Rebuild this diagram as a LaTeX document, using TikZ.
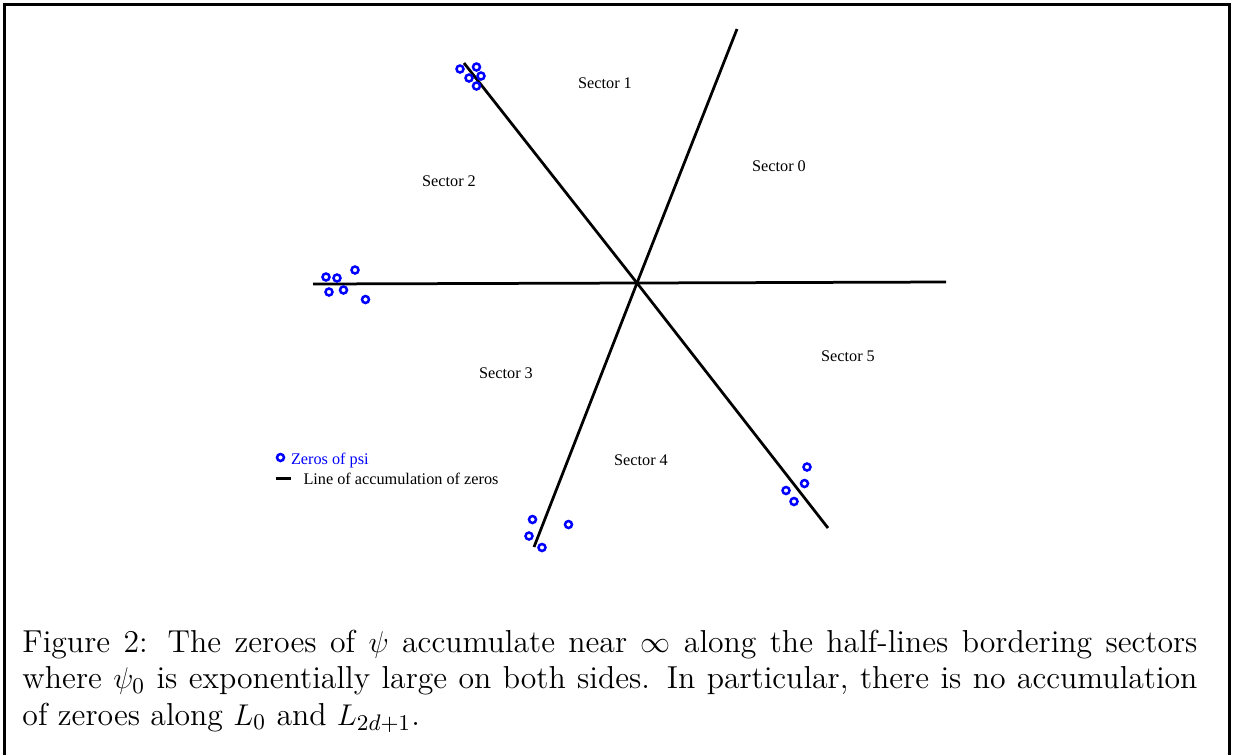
\documentclass[tikz,border=0pt]{standalone}
\usepackage{fontspec}
\newfontfamily\figfont{Liberation Serif}
\usetikzlibrary{positioning}

\begin{document}
\begin{tikzpicture}[x=0.4pt, y=-0.4pt]
  % colors
  \definecolor{zeroblue}{RGB}{0,0,255}

  % parameters
  \def\r{1.4pt}    % radius of the zeros

  \tikzset{
    halfline/.style={line width=1.1pt, black},
    zero/.style={draw=zeroblue, line width=1pt},
    sectorlabel/.style={font=\figfont\fontsize{6.5}{8}\selectfont, inner sep=0pt},
  }

  \useasboundingbox (0,0) rectangle (1235,755);

  % frame
  \draw[line width=1.2pt] (4.5,755) -- (4.5,4.5) -- (1229.5,4.5) -- (1229.5,755);

  % half-lines through the origin
  \coordinate (O)  at (637,283);
  \coordinate (W)  at (313,284);
  \coordinate (E)  at (946,282);
  \coordinate (NE) at (737,29);
  \coordinate (SW) at (534,547);
  \coordinate (NW) at (464,63);
  \coordinate (SE) at (828,528);
  \draw[halfline] (W) -- (O) -- (E);
  \draw[halfline] (NE) -- (O) -- (SW);
  \draw[halfline] (NW) -- (O) -- (SE);

  % zeros (upper left, left, bottom, lower right)
  \foreach \p in {(460,69),(476.5,67),(469,78),(481,76),(476.5,86)}
    \draw[zero] \p circle (\r);
  \foreach \p in {(326,277),(337,278),(355,270),(329,292),(343.5,290),(365.5,299.5)}
    \draw[zero] \p circle (\r);
  \foreach \p in {(532.5,519.5),(529,536),(542,547.5),(568.5,524.5)}
    \draw[zero] \p circle (\r);
  \foreach \p in {(807,467),(804.5,483.5),(786,490.5),(794,501.5)}
    \draw[zero] \p circle (\r);

  % sectors
  \node[sectorlabel] (s0) at (779,166) {Sector 0};
  \node[sectorlabel] (s1) at (605,83)  {Sector 1};
  \node[sectorlabel] (s2) at (449,181) {Sector 2};
  \node[sectorlabel] (s3) at (506,373) {Sector 3};
  \node[sectorlabel] (s4) at (641,460) {Sector 4};
  \node[sectorlabel] (s5) at (848,356) {Sector 5};

  % legend
  \draw[zero] (280.5,457.5) circle (\r);
  \node[sectorlabel, anchor=west, text=zeroblue] (lzero) at (290.5,460) {Zeros of psi};
  \coordinate (la) at (275.5,478.5);
  \coordinate (lb) at (291,478.5);
  \draw[halfline] (la) -- (lb);
  \node[sectorlabel, anchor=west, right=4.8pt of lb] (lline) {Line of accumulation of zeros};

  % caption
  \node[anchor=base west, inner sep=0pt, text width=470pt, align=justify,
        font=\fontsize{12.7}{14.6}\selectfont] (caption) at (22,652)
    {Figure 2: The zeroes of $\psi$ accumulate near $\infty$ along the half-lines bordering sectors\linebreak
     where $\psi_0$ is exponentially large on both sides. In particular, there is no accumulation\linebreak
     of zeroes along $L_0$ and $L_{2d+1}$.};
\end{tikzpicture}
\end{document}
